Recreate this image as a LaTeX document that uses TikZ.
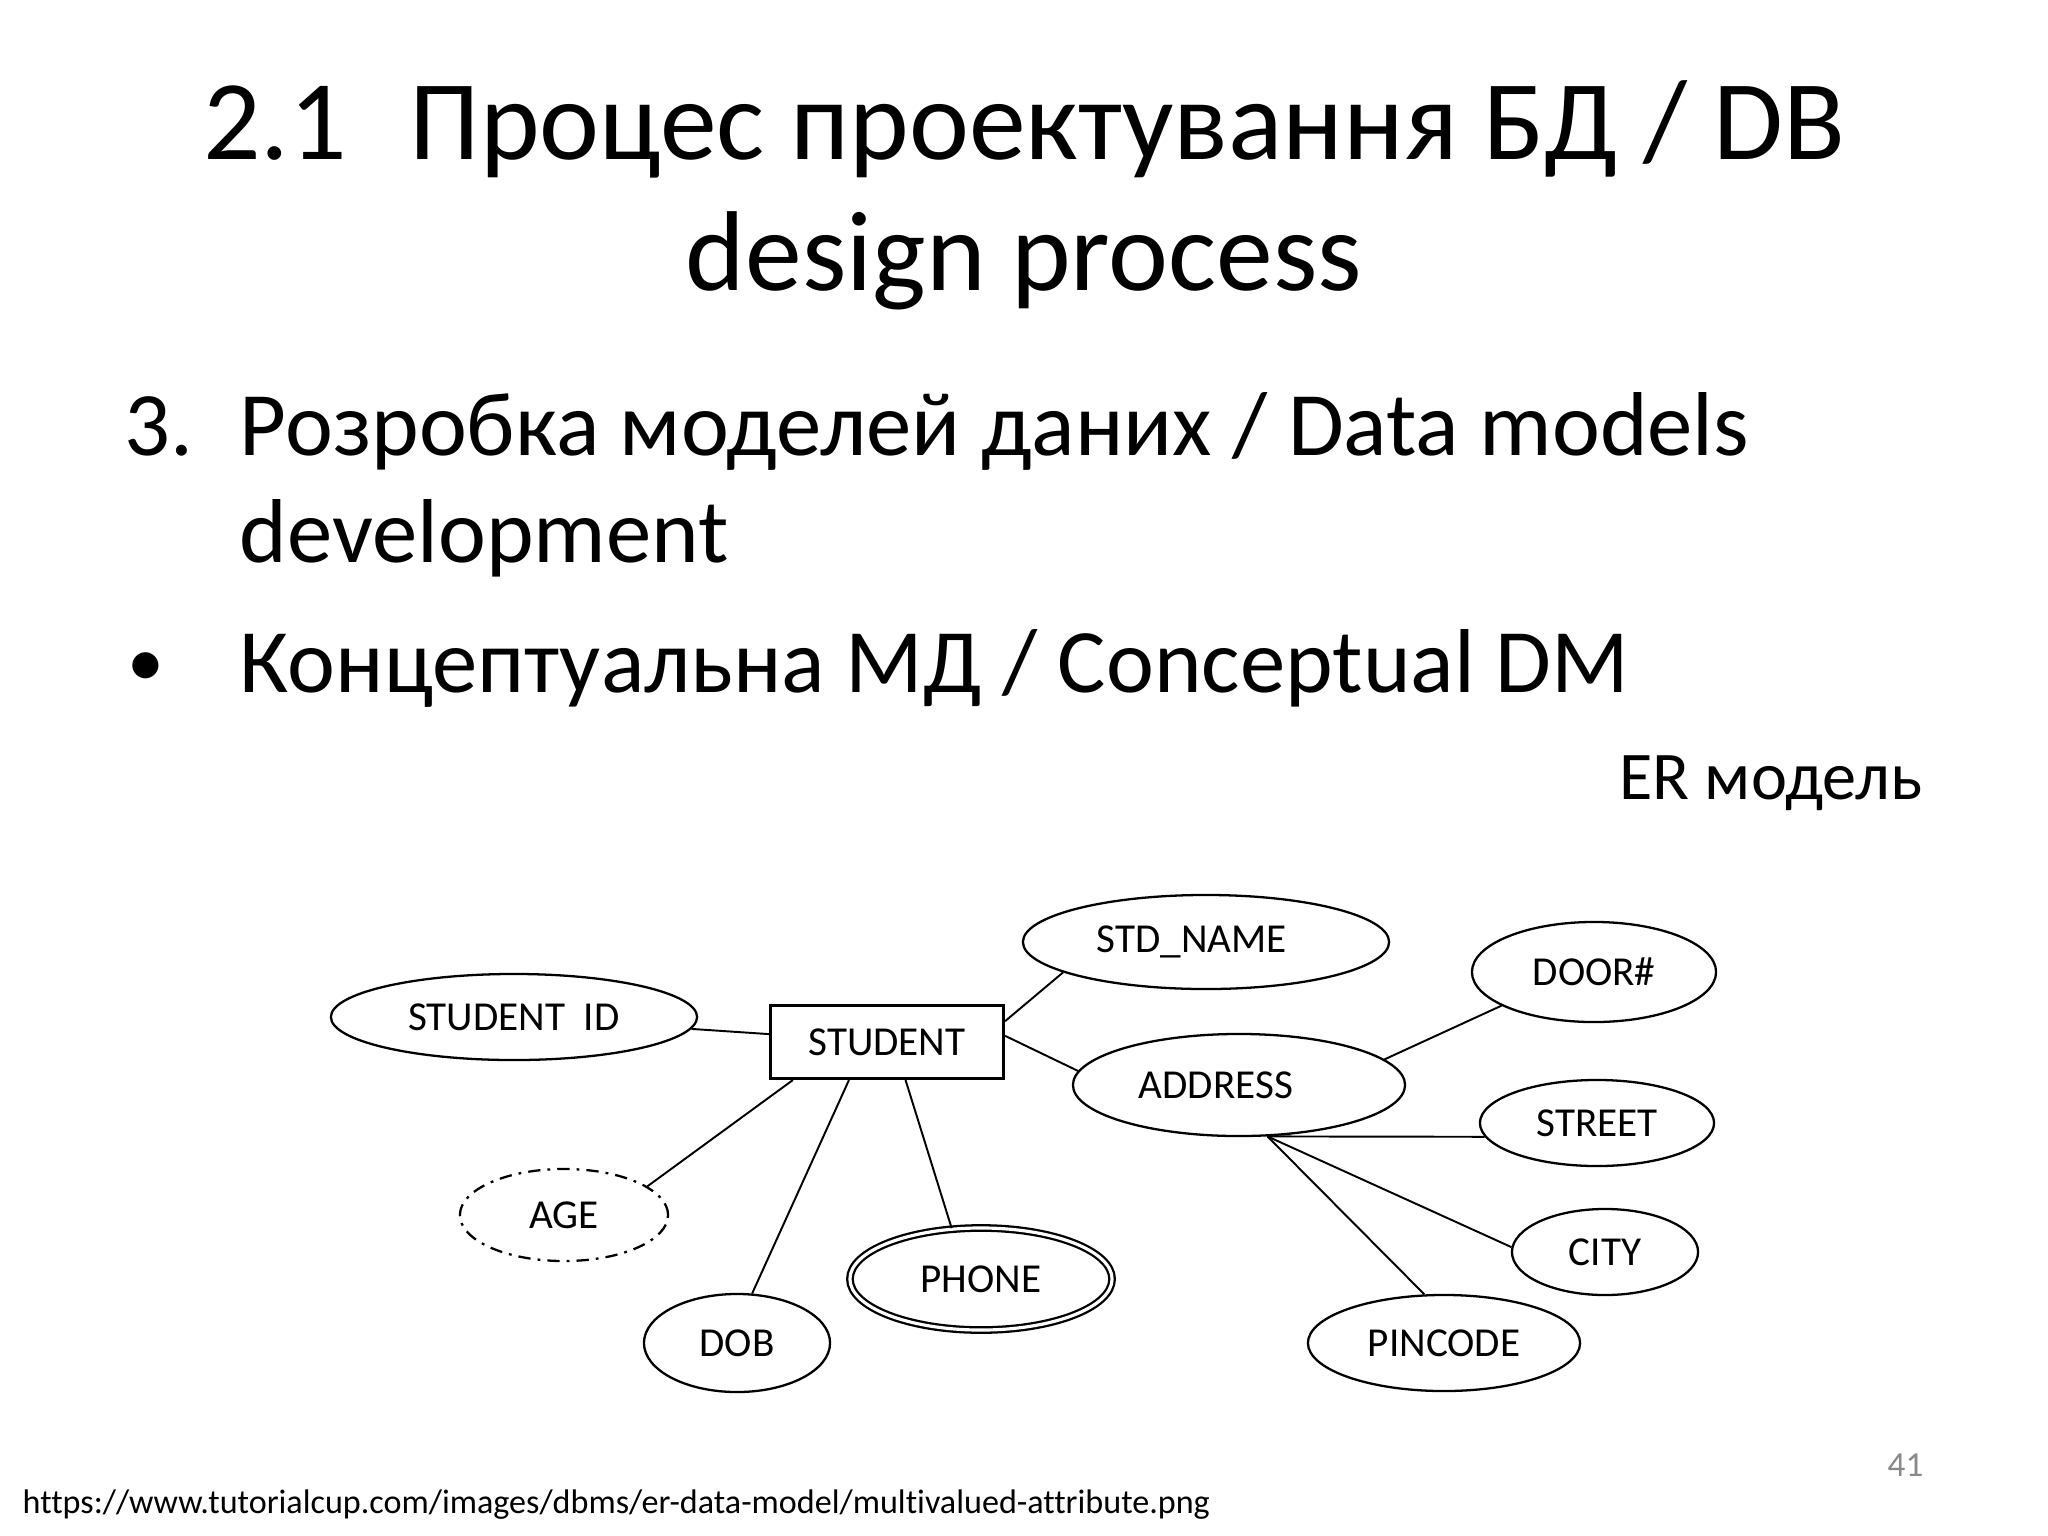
\documentclass[tikz,border=0pt]{standalone}
\usepackage{fontspec}
\setmainfont{Carlito}[Ligatures=CommonOff]
\usetikzlibrary{shapes.geometric}
\definecolor{pnum}{RGB}{137,137,137}

\begin{document}
\begin{tikzpicture}[x=0.01cm,y=-0.01cm,
  title/.style={inner sep=0pt,anchor=base,font=\fontsize{32.3}{38}\selectfont},
  body/.style={inner sep=0pt,anchor=base west,font=\fontsize{25.8}{31}\selectfont},
  attr/.style={ellipse,draw,line width=0.65pt,inner sep=0pt,font=\fontsize{11.7}{14}\selectfont},
  ent/.style={rectangle,draw,line width=0.85pt,inner sep=0pt,font=\fontsize{11.7}{14}\selectfont},
  link/.style={line width=0.55pt}]

\useasboundingbox (0,0) rectangle (2048,1536);
\fill[white] (0,0) rectangle (2048,1536);

% slide text
\node[title] (T1) at (1024,159) {2.1\hspace{0.55em}Процес проектування БД / DB};
\node[title] (T2) at (1024,290) {design process};
\node[body]  (N3) at (124,455) {3.};
\node[body]  (L1) at (239,455) {Розробка моделей даних / Data models};
\node[body]  (L2) at (239,562) {development};
\node[body,font=\fontsize{21}{25}\selectfont] (B1) at (127,686) {•};
\node[body]  (L3) at (239,692) {Концептуальна МД / Conceptual DM};
\node[inner sep=0pt,anchor=base east,font=\fontsize{19.4}{23}\selectfont] (ER) at (1923,799) {ER модель};
\node[inner sep=0pt,anchor=base west,font=\fontsize{9.7}{12}\selectfont] (URL) at (22,1513) {https://www.tutorialcup.com/images/dbms/er-data-model/multivalued-attribute.png};
\node[inner sep=0pt,anchor=base east,text=pnum,font=\fontsize{10}{12}\selectfont] (PG) at (1924,1476) {41};

% ER diagram
\coordinate (cS)    at (887,1042);
\coordinate (cSID)  at (514,1017);
\coordinate (cSN)   at (1206,942);
\coordinate (cADDR) at (1239,1085);
\coordinate (cDOOR) at (1594,972);
\coordinate (cST)   at (1597,1123);
\coordinate (cCITY) at (1605,1252);
\coordinate (cPIN)  at (1444,1343);
\coordinate (cPH)   at (981,1279);
\coordinate (cDOB)  at (737,1343);
\coordinate (cAGE)  at (564,1215);

\node[ent,minimum width=2.33cm,minimum height=0.73cm]  (S)    at (cS)    {STUDENT};
\node[attr,minimum width=3.66cm,minimum height=0.86cm] (SID)  at (cSID)  {STUDENT\ \ ID};
\node[attr,minimum width=3.66cm,minimum height=0.94cm] (SN)   at (cSN)   {STD\_NAME\rule{0.28cm}{0pt}};
\node[attr,minimum width=3.32cm,minimum height=1.02cm] (ADDR) at (cADDR) {ADDRESS\rule{0.46cm}{0pt}};
\node[attr,minimum width=2.44cm,minimum height=1.00cm] (DOOR) at (cDOOR) {DOOR\#};
\node[attr,minimum width=2.34cm,minimum height=0.86cm] (ST)   at (cST)   {STREET};
\node[attr,minimum width=1.86cm,minimum height=0.86cm] (CITY) at (cCITY) {CITY};
\node[attr,minimum width=2.72cm,minimum height=0.96cm] (PIN)  at (cPIN)  {PINCODE};
\node[attr,double,double distance=0.9pt,minimum width=2.62cm,minimum height=1.02cm] (PH) at (cPH) {PHONE};
\node[attr,minimum width=1.86cm,minimum height=0.98cm] (DOB)  at (cDOB)  {DOB};
\node[attr,dash pattern=on 3.5pt off 2pt on 0.8pt off 2pt,minimum width=2.08cm,minimum height=0.92cm] (AGE) at (cAGE) {AGE};

\coordinate (cF) at (ADDR.-61);

\draw[link] (SID) -- (S);
\draw[link] (S.10) -- (SN.192);
\draw[link] (S.3) -- (ADDR.175);
\draw[link] (S.202) -- (AGE.19);
\draw[link] (S.225) -- (DOB.73);
\draw[link] (S.-64) -- (PH.120);
\draw[link] (ADDR.10) -- (DOOR.200);
\draw[link] (cF) -- (ST.187);
\draw[link] (cF) -- (CITY.177);
\draw[link] (cF) -- (PIN.112);

\end{tikzpicture}
\end{document}
